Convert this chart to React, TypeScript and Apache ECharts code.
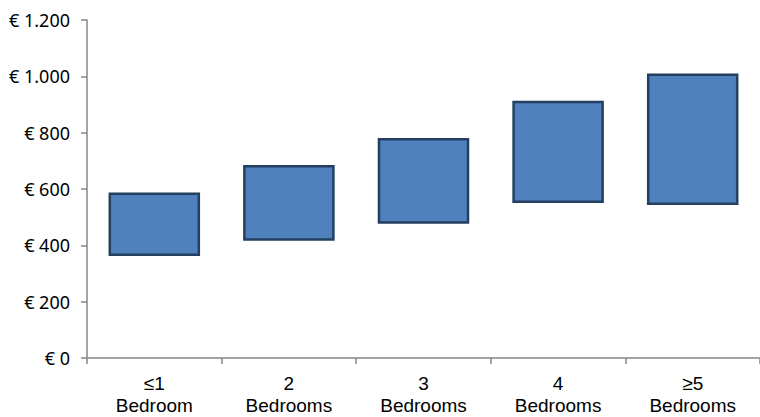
import React, { useEffect, useRef } from "react";
import * as echarts from "echarts";

const categories = ["≤1\nBedroom", "2\nBedrooms", "3\nBedrooms", "4\nBedrooms", "≥5\nBedrooms"];
const lowValues = [362, 416, 477, 550, 543];
const highValues = [588, 685, 781, 913, 1010];
const yTicks = [0, 200, 400, 600, 800, 1000, 1200];

function euro(v: number): string {
  const s = String(Math.round(v)).replace(/\B(?=(\d{3})+(?!\d))/g, ".");
  return "€ " + s;
}

export default function App() {
  const ref = useRef<HTMLDivElement>(null);
  useEffect(() => {
    if (!ref.current) return;
    const chart = echarts.init(ref.current, undefined, { renderer: "svg" });
    const ranges = highValues.map((h, i) => h - lowValues[i]);
    chart.setOption({
      animation: false,
      backgroundColor: "#ffffff",
      grid: { left: 87, top: 20, height: 338, width: 680, containLabel: false },
      xAxis: {
        type: "category",
        data: categories,
        boundaryGap: true,
        axisLine: { lineStyle: { color: "#868686", width: 1.5 } },
        axisTick: { show: true, alignWithLabel: false, length: 6, lineStyle: { color: "#868686", width: 1.5 } },
        axisLabel: {
          color: "#000000",
          fontFamily: "Liberation Sans Narrow, Arial Narrow, sans-serif",
          fontSize: 19,
          lineHeight: 22,
          margin: 14,
        },
        splitLine: { show: false },
      },
      yAxis: {
        type: "value",
        min: yTicks[0],
        max: yTicks[yTicks.length - 1],
        interval: 200,
        axisLine: { show: true, lineStyle: { color: "#868686", width: 1.5 } },
        axisTick: { show: true, inside: false, length: 6, lineStyle: { color: "#868686", width: 1.5 } },
        splitLine: { show: false },
        axisLabel: {
          color: "#000000",
          fontFamily: "Noto Sans, sans-serif",
          fontSize: 18,
          margin: 17,
          formatter: (v: number) => euro(v),
        },
      },
      series: [
        {
          type: "bar",
          stack: "range",
          data: lowValues,
          barWidth: "68%",
          itemStyle: { color: "transparent", borderWidth: 0 },
          silent: true,
        },
        {
          type: "bar",
          stack: "range",
          data: ranges,
          barWidth: "68%",
          itemStyle: { color: "#4f81bd", borderColor: "#243f60", borderWidth: 2.5 },
        },
      ],
    });
    return () => chart.dispose();
  }, []);
  return (
    <div
      ref={ref}
      style={{ position: "fixed", left: 0, top: 0, width: 760, height: 417 }}
    />
  );
}
